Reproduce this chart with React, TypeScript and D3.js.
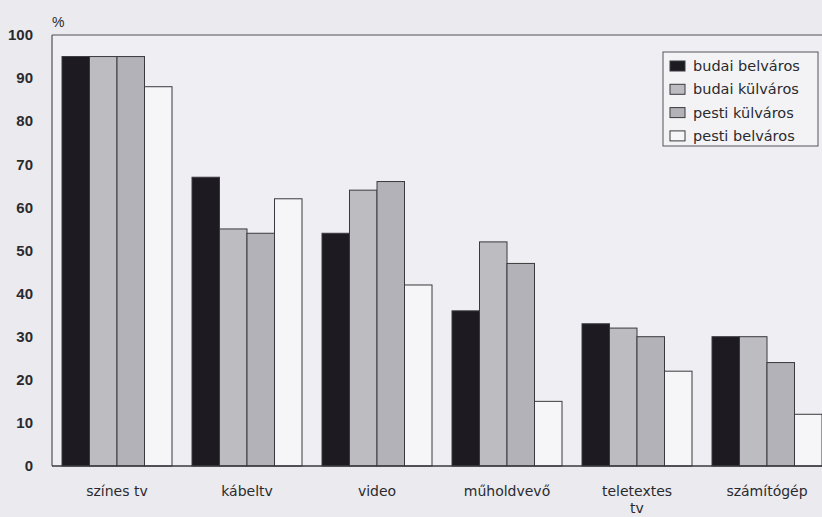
import React from "react";
import { scaleBand, scaleLinear } from "d3";

// categories along x
const categories = ["színes tv", "kábeltv", "video", "műholdvevő", "teletextes tv", "számítógép"];
const series = ["budai belváros", "budai külváros", "pesti külváros", "pesti belváros"];

// values per series, in category order (%)
const budaiBelvaros = [95, 67, 54, 36, 33, 30];
const budaiKulvaros = [95, 55, 64, 52, 32, 30];
const pestiKulvaros = [95, 54, 66, 47, 30, 24];
const pestiBelvaros = [88, 62, 42, 15, 22, 12];

const yTicks = [0, 10, 20, 30, 40, 50, 60, 70, 80, 90, 100];

const values = [budaiBelvaros, budaiKulvaros, pestiKulvaros, pestiBelvaros];
const fills = ["#1d1b21", "#bcbcc1", "#b2b2b8", "#f6f6f8"];

const W = 822;
const H = 517;
const left = 52;
const top = 35;
const bottom = 466;

function App() {
    const x = scaleBand<string>()
        .domain(categories)
        .range([left, left + 6 * 130])
        .paddingInner(20 / 130)
        .paddingOuter(10 / 130);

    const x1 = scaleBand<string>().domain(series).range([0, x.bandwidth()]);

    const y = scaleLinear().domain([0, 100]).range([bottom, top]);

    return (
        <svg
            width={W}
            height={H}
            style={{ position: "absolute", left: 0, top: 0, background: "#eaeaef" }}
            fontFamily="Liberation Sans, Arial, sans-serif"
        >
            <rect x={0} y={0} width={W} height={H} fill="#eaeaef" />
            <rect x={left} y={top} width={W} height={bottom - top} fill="#efeff3" />

            {/* bars */}
            {categories.map((cat, ci) => (
                <g key={cat} transform={`translate(${x(cat)},0)`}>
                    {series.map((s, si) => (
                        <rect
                            key={s}
                            x={x1(s)}
                            y={y(values[si][ci])}
                            width={x1.bandwidth()}
                            height={bottom - y(values[si][ci])}
                            fill={fills[si]}
                            stroke="#3a3a3e"
                            strokeWidth={1}
                        />
                    ))}
                </g>
            ))}

            {/* frame */}
            <line x1={left} y1={top} x2={W} y2={top} stroke="#505055" strokeWidth={1.2} />
            <line x1={left} y1={top} x2={left} y2={bottom} stroke="#505055" strokeWidth={1.2} />
            <line x1={left} y1={bottom} x2={W} y2={bottom} stroke="#3a3a3e" strokeWidth={1.5} />

            {/* y axis labels */}
            {yTicks.map(t => (
                <text
                    key={t}
                    x={33}
                    y={y(t)}
                    dy="0.35em"
                    textAnchor="end"
                    fontSize={15}
                    fontWeight="bold"
                    fill="#2a2a2e"
                >
                    {t}
                </text>
            ))}
            <text x={52} y={27} fontSize={14} fill="#2a2a2e">%</text>

            {/* x labels */}
            {categories.map(cat => {
                const cx = (x(cat) as number) + x.bandwidth() / 2;
                const parts = cat === "teletextes tv" ? ["teletextes", "tv"] : [cat];
                return (
                    <text key={cat} x={cx} y={496} textAnchor="middle" fontSize={14}
                        fontFamily="DejaVu Sans, sans-serif" fill="#2a2a2e">
                        {parts.map((p, i) => (
                            <tspan key={p} x={cx} dy={i === 0 ? 0 : 17}>{p}</tspan>
                        ))}
                    </text>
                );
            })}

            {/* legend */}
            <rect x={663} y={52} width={155} height={94} fill="#f3f3f6" stroke="#55555a" strokeWidth={1} />
            {series.map((s, i) => (
                <g key={s} transform={`translate(670,${66 + i * 23.3})`}>
                    <rect x={0} y={-5} width={15} height={10} fill={fills[i]} stroke="#3a3a3e" strokeWidth={1} />
                    <text x={23} y={0} dy="0.35em" fontSize={14.5}
                        fontFamily="DejaVu Sans, sans-serif" fill="#2a2a2e">{s}</text>
                </g>
            ))}
        </svg>
    );
}

export default App;
